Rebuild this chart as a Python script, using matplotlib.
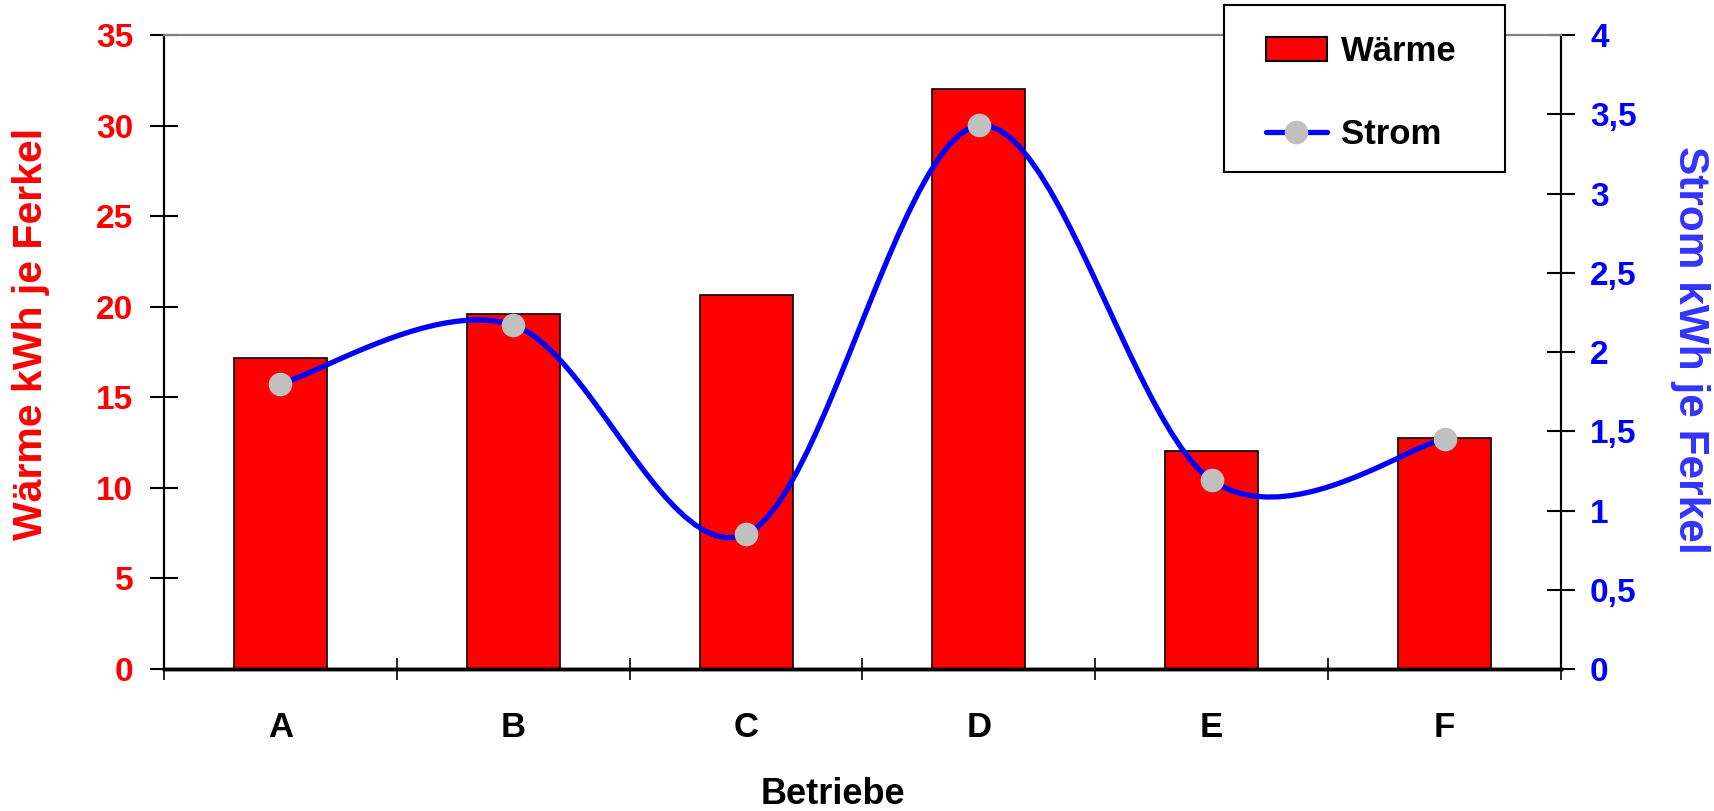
import numpy as np
import matplotlib
matplotlib.use("Agg")
from matplotlib import pyplot as plt
from matplotlib.patches import Rectangle
from matplotlib.lines import Line2D

plt.rcParams['font.family'] = ['Liberation Sans', 'DejaVu Sans']
plt.rcParams['font.weight'] = 'bold'

betriebe = ["A", "B", "C", "D", "E", "F"]
waerme = [17.15, 19.6, 20.65, 32.0, 12.05, 12.75]
strom = [1.80, 2.17, 0.85, 3.43, 1.19, 1.45]


def smooth(x, y, n=24):
    # Bezier-Glättung wie bei Excel-Linien
    pts = np.column_stack([x, y]).astype(float)
    ext = np.vstack([pts[0], pts, pts[-1]])
    t = np.linspace(0, 1, n)[:, None]
    out = []
    for i in range(len(pts) - 1):
        p0, p1, p2, p3 = ext[i], ext[i + 1], ext[i + 2], ext[i + 3]
        c1 = p1 + (p2 - p0) / 6
        c2 = p2 - (p3 - p1) / 6
        seg = (1 - t)**3 * p1 + 3 * (1 - t)**2 * t * c1 + 3 * (1 - t) * t**2 * c2 + t**3 * p2
        out.append(seg if i == 0 else seg[1:])
    return np.vstack(out)


fig = plt.figure(figsize=(17.14, 8.11), dpi=100)
ax = fig.add_axes([0.0957, 0.1751, 0.8150, 0.7817])
ax2 = ax.twinx()

x = np.arange(len(betriebe)) + 0.5
ax.bar(x, waerme, width=0.4, color="#ff0000", edgecolor="black", linewidth=1.2, zorder=2)
ax.set_xlim(0, 6)
ax.set_ylim(0, 35)
ax.set_yticks(np.arange(0, 36, 5))
ax.tick_params(axis="y", direction="inout", length=20, width=1.5, pad=12,
               labelsize=24, labelcolor="#ff0000")
ax.set_xticks(x)
ax.set_xticklabels(betriebe)
ax.tick_params(axis="x", which="major", length=0, pad=30, labelsize=25)
ax.set_xticks(np.arange(0, 7), minor=True)
ax.tick_params(axis="x", which="minor", direction="inout", length=16.5, width=1.2)

ax2.set_ylim(0, 4)
ax2.set_yticks(np.arange(0, 4.01, 0.5))
ax2.set_yticklabels(["0", "0,5", "1", "1,5", "2", "2,5", "3", "3,5", "4"])
ax2.tick_params(axis="y", direction="inout", length=20, width=1.5, pad=11,
                labelsize=24, labelcolor="#0000ff")

curve = smooth(x, strom)
ax2.plot(curve[:, 0], curve[:, 1], color="#0000ff", linewidth=3.8, solid_capstyle="round", zorder=3)
ax2.plot(x, strom, linestyle="none", marker="o", markersize=16,
         markerfacecolor="#c0c0c0", markeredgecolor="#c0c0c0", zorder=4)

for a in (ax, ax2):
    a.spines["top"].set_color("#808080")
    a.spines["top"].set_linewidth(1.5)
    a.spines["left"].set_linewidth(1.5)
    a.spines["right"].set_linewidth(1.5)
    a.spines["bottom"].set_linewidth(2.5)

fig.text(0.018, 0.588, "Wärme kWh je Ferkel", rotation=90, ha="center", va="center",
         fontsize=29.5, color="#ff0000")
fig.text(0.986, 0.568, "Strom kWh je Ferkel", rotation=270, ha="center", va="center",
         fontsize=30.5, color="#3333ff")
fig.text(0.486, 0.02, "Betriebe", ha="center", va="center", fontsize=26)

# Legendenrahmen, ragt über die Zeichenfläche hinaus
fig.patches.append(Rectangle((0.7141, 0.7879), 0.1639, 0.2059, transform=fig.transFigure,
                             facecolor="white", edgecolor="black", linewidth=1.5, zorder=5))

handles = [Rectangle((0, 0), 1, 1, facecolor="#ff0000", edgecolor="black", linewidth=1.5),
           Line2D([], [], color="#0000ff", linewidth=3.8, marker="o", markersize=16,
                  markerfacecolor="#c0c0c0", markeredgecolor="#c0c0c0", solid_capstyle="round")]
leg = fig.legend(handles, ["Wärme", "Strom"], loc="center left",
                 bbox_to_anchor=(1266 / 1714, 1 - 93 / 811), bbox_transform=fig.transFigure,
                 fontsize=25, frameon=False, borderpad=0, borderaxespad=0,
                 labelspacing=1.45, handlelength=1.75, handletextpad=0.4)
leg.set_zorder(6)

fig.savefig("out.png", dpi=100)
